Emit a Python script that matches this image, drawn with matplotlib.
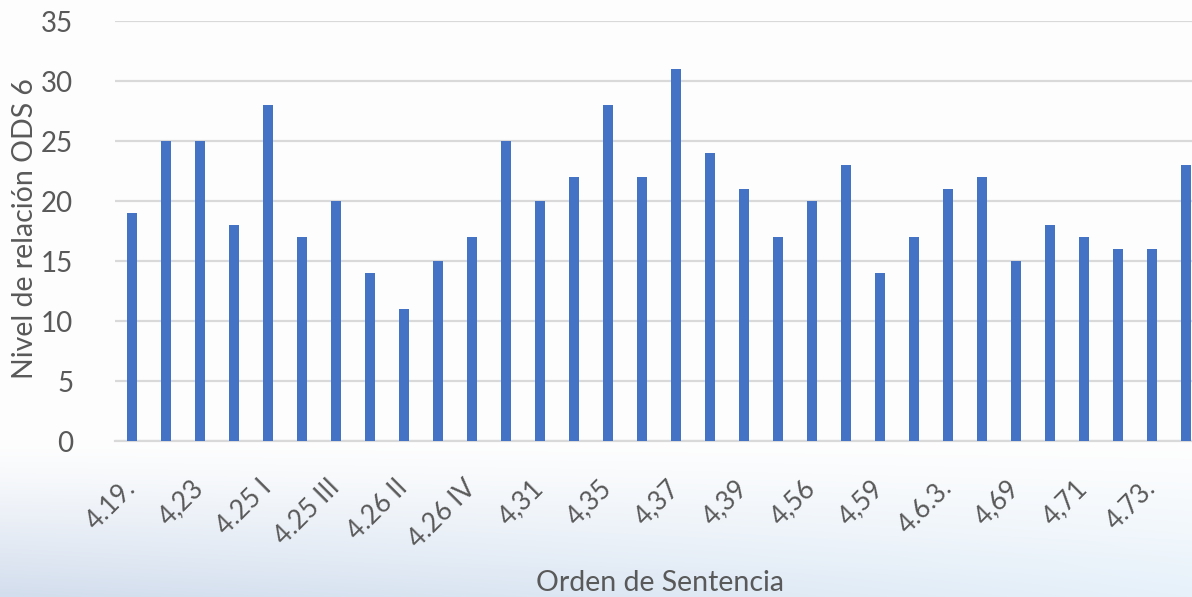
import matplotlib
matplotlib.use("Agg")
import matplotlib.pyplot as plt
import numpy as np

# categories (only every other one is labelled on the axis in the original)
labels_shown = ["4.19.", "4,23", "4.25 I", "4.25 III", "4.26 II", "4.26 IV", "4,31", "4,35",
                "4,37", "4,39", "4,56", "4,59", "4.6.3.", "4,69", "4,71", "4.73."]
values = [19, 25, 25, 18, 28, 17, 20, 14, 11, 15, 17, 25, 20, 22, 28, 22,
          31, 24, 21, 17, 20, 23, 14, 17, 21, 22, 15, 18, 17, 16, 16, 23]
y_ticks = [0, 5, 10, 15, 20, 25, 30, 35]

W, H = 1192, 597
text_col = "#595959"
bar_col = "#4472C4"
grid_col = "#D9D9D9"

plt.rcParams["font.family"] = ["Lato", "DejaVu Sans"]

fig = plt.figure(figsize=(W / 100, H / 100), dpi=100)

# background: white fading into a pale sky blue at the bottom
bg = fig.add_axes([0, 0, 1, 1], zorder=-10)
yy, xx = np.mgrid[0:H, 0:W]
t = np.clip((yy - 440) / (H - 440), 0, 1) ** 1.2
fx = xx / W
blue = np.stack([210 + 20 * fx, 221 + 20 * fx, 237 + 13 * fx], axis=-1) / 255.0
img = (1 - t[..., None]) * np.array([0.996, 0.996, 0.996]) + t[..., None] * blue
bg.imshow(img, aspect="auto", extent=[0, 1, 0, 1], origin="upper")
bg.axis("off")

ax = fig.add_axes([115 / W, 1 - 441 / H, 1 - 115 / W, (441 - 21) / H])
ax.patch.set_alpha(0)

x = np.arange(len(values))
ax.bar(x, values, width=0.31, color=bar_col, zorder=3)

ax.set_ylim(0, 35)
ax.set_yticks(y_ticks)
ax.set_xlim(-0.5, 31.18)
ax.grid(axis="y", color=grid_col, linewidth=1.6, zorder=0)
for s in ["top", "right", "left"]:
    ax.spines[s].set_visible(False)
ax.spines["bottom"].set_color(grid_col)
ax.spines["bottom"].set_linewidth(1.6)

ax.set_xticks(x[::2])
ax.set_xticklabels(labels_shown, rotation=45, ha="right", va="center",
                   rotation_mode="anchor", fontsize=19, color=text_col)
ax.tick_params(axis="x", length=0, pad=31)
ax.tick_params(axis="y", length=0, pad=30, labelsize=20, labelcolor=text_col)

fig.text(25 / W, 1 - 229 / H, "Nivel de relación ODS 6", fontsize=20.5, color=text_col,
         rotation=90, ha="center", va="center")
fig.text(660 / W, 1 - 591 / H, "Orden de Sentencia", fontsize=20.5, color=text_col,
         ha="center", va="baseline")

fig.savefig("out.png", dpi=100)
